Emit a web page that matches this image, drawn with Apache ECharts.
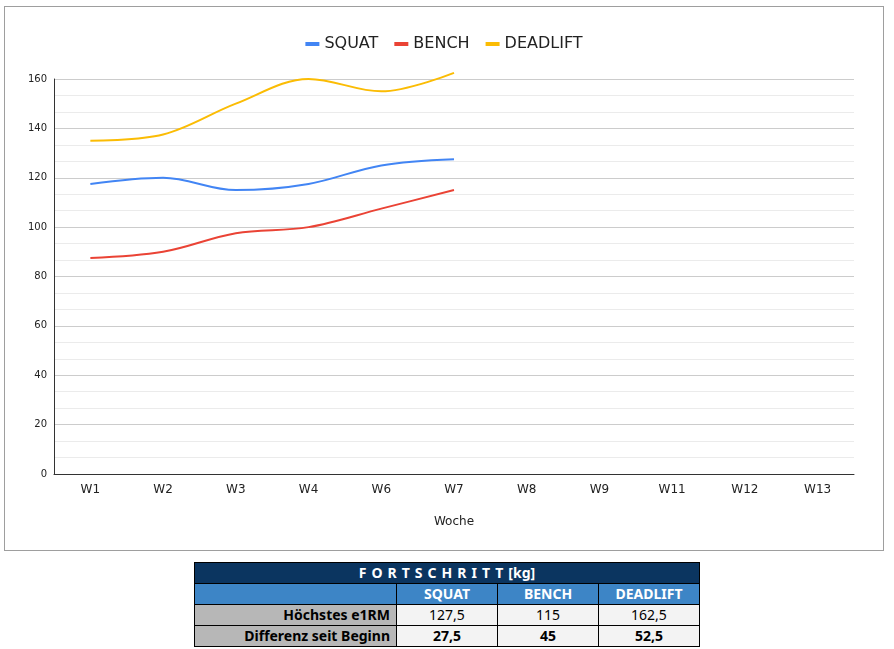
<!DOCTYPE html>
<html>
<head>
<meta charset="utf-8">
<script src="https://cdn.jsdelivr.net/npm/echarts@6/dist/echarts.min.js"></script>
<style>
  body { margin: 0; background: #fff; }
  #chart { position: absolute; left: 4px; top: 6px; width: 878px; height: 543px; border: 1px solid #9e9e9e; }
  #tbl { position: absolute; left: 194px; top: 562px; border-collapse: collapse; font-family: "Noto Sans", sans-serif; font-size: 14px; }
  #tbl td { border: 1px solid #000; padding: 0 6px; height: 20px; line-height: 20px; }
  .title { background: #0b3560; color: #fff; font-weight: bold; text-align: center; letter-spacing: 5px; }
  .title span { letter-spacing: 0; }
  .head td { background: #3d85c6; color: #fff; font-weight: bold; text-align: center; }
  .lab { background: #b7b7b7; font-weight: bold; text-align: right; width: 189px; }
  .val { background: #f3f3f3; text-align: center; width: 88px; }
  .bold { font-weight: bold; }
</style>
</head>
<body>
<div id="chart"></div>
<table id="tbl"></table>
<script>
// Wochen (W5 und W10 fehlen im Original)
const weeks = ['W1', 'W2', 'W3', 'W4', 'W6', 'W7', 'W8', 'W9', 'W11', 'W12', 'W13'];
const squat = [117.5, 120, 115, 117.5, 125, 127.5];
const bench = [87.5, 90, 97.5, 100, 107.5, 115];
const deadlift = [135, 137.5, 150, 160, 155, 162.5];

// Tabelle
const lifts = ['SQUAT', 'BENCH', 'DEADLIFT'];
const bestE1rm = ['127,5', '115', '162,5'];
const diffStart = ['27,5', '45', '52,5'];

const colors = ['#4285f4', '#ea4335', '#fbbc04'];

function buildTable() {
  let html = '<tr><td class="title" colspan="4">FORTSCHRITT<span>[kg]</span></td></tr>';
  html += '<tr class="head"><td></td>';
  lifts.forEach(l => { html += '<td>' + l + '</td>'; });
  html += '</tr><tr><td class="lab">Höchstes e1RM</td>';
  bestE1rm.forEach(v => { html += '<td class="val">' + v + '</td>'; });
  html += '</tr><tr><td class="lab">Differenz seit Beginn</td>';
  diffStart.forEach(v => { html += '<td class="val bold">' + v + '</td>'; });
  html += '</tr>';
  document.getElementById('tbl').innerHTML = html;
}
buildTable();

const myChart = echarts.init(document.getElementById('chart'));
const lineSeries = (name, data, i) => ({
  name: name,
  type: 'line',
  data: data,
  smooth: 0.35,
  symbol: 'none',
  clip: false,
  lineStyle: { width: 2, color: colors[i] },
  itemStyle: { color: colors[i] }
});

myChart.setOption({
  animation: false,
  textStyle: { fontFamily: 'DejaVu Sans, Verdana, sans-serif' },
  legend: {
    top: 24,
    left: 'center',
    itemWidth: 14,
    itemHeight: 4,
    itemGap: 16,
    icon: 'rect',
    textStyle: { fontSize: 16, color: '#222' },
    data: lifts
  },
  grid: { left: 49, top: 72, width: 800, height: 395, containLabel: false },
  xAxis: {
    type: 'category',
    data: weeks,
    name: 'Woche',
    nameLocation: 'middle',
    nameGap: 42,
    nameTextStyle: { fontSize: 12, color: '#222' },
    axisLine: { lineStyle: { color: '#333', width: 1 } },
    axisTick: { show: false },
    axisLabel: { fontSize: 12, color: '#222', margin: 10 }
  },
  yAxis: {
    type: 'value',
    min: 0,
    max: 160,
    interval: 20,
    axisLine: { show: true, lineStyle: { color: '#333', width: 1 } },
    axisTick: { show: false },
    axisLabel: { fontSize: 10, color: '#222', margin: 7 },
    splitLine: { lineStyle: { color: '#cccccc' } },
    minorTick: { show: false, splitNumber: 3 },
    minorSplitLine: { show: true, lineStyle: { color: '#ebebeb' } }
  },
  series: [
    lineSeries('SQUAT', squat, 0),
    lineSeries('BENCH', bench, 1),
    lineSeries('DEADLIFT', deadlift, 2)
  ]
});
</script>
</body>
</html>
